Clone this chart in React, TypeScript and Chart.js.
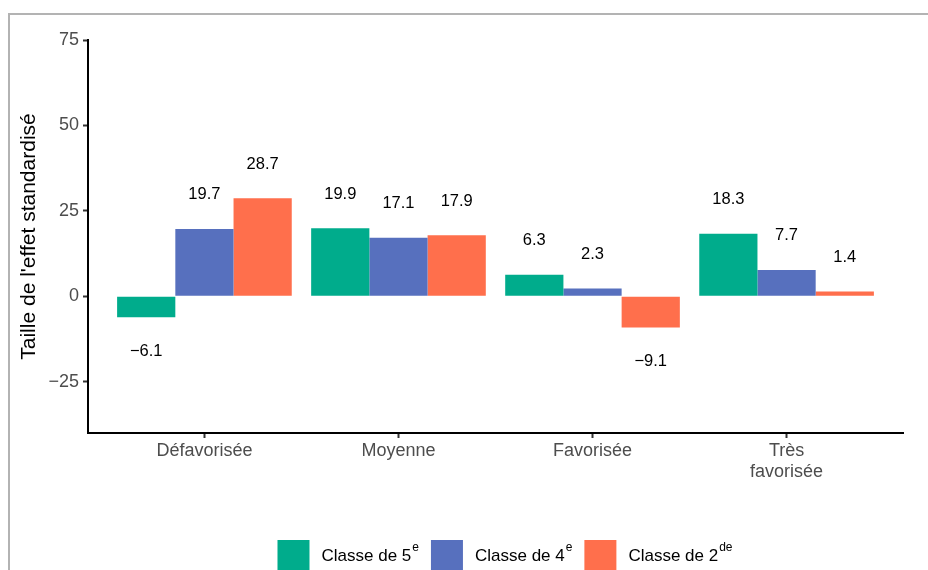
import React, { useEffect, useRef } from 'react';
import { Chart, registerables } from 'chart.js';

Chart.register(...registerables);

// ---- data ----
const categories = ['Défavorisée', 'Moyenne', 'Favorisée', 'Très favorisée'];
const categoryLines = [['Défavorisée'], ['Moyenne'], ['Favorisée'], ['Très', 'favorisée']];
const classe5 = [-6.1, 19.9, 6.3, 18.3];
const classe4 = [19.7, 17.1, 2.3, 7.7];
const classe2 = [28.7, 17.9, -9.1, 1.4];
const yTicks = [-25, 0, 25, 50, 75];
const seriesMain = ['Classe de 5', 'Classe de 4', 'Classe de 2'];
const seriesSup = ['e', 'e', 'de'];
const yTitle = "Taille de l'effet standardisé";

// ---- styles ----
const COLORS = ['#00AC8C', '#5770BE', '#FF6F4C'];
const FONT = "'Liberation Sans', Arial, sans-serif";
const LABEL_OFFSET = 10;

const fmt = (v: number) => v.toFixed(1).replace('-', '\u2212');

const valueLabels = {
  id: 'valueLabels',
  afterDatasetsDraw(chart: any) {
    const ctx = chart.ctx;
    const y = chart.scales.y;
    ctx.save();
    ctx.font = `16.5px ${FONT}`;
    ctx.fillStyle = '#000';
    ctx.textAlign = 'center';
    ctx.textBaseline = 'middle';
    chart.data.datasets.forEach((ds: any, di: number) => {
      const meta = chart.getDatasetMeta(di);
      meta.data.forEach((bar: any, i: number) => {
        const v = ds.data[i].y;
        const py = y.getPixelForValue(v + (v >= 0 ? LABEL_OFFSET : -LABEL_OFFSET));
        ctx.fillText(fmt(v), bar.x, py);
      });
    });
    ctx.restore();
  },
};

const customLegend = {
  id: 'customLegend',
  afterDraw(chart: any) {
    const ctx = chart.ctx;
    ctx.save();
    const box = 32;
    const gapText = 12;
    const gapItem = 12;
    const mainFont = `17px ${FONT}`;
    const supFont = `12px ${FONT}`;
    const widths = seriesMain.map((m, i) => {
      ctx.font = mainFont;
      const w1 = ctx.measureText(m).width;
      ctx.font = supFont;
      const w2 = ctx.measureText(seriesSup[i]).width;
      return { w1, w2 };
    });
    const total = widths.reduce((s, w) => s + box + gapText + w.w1 + 1 + w.w2, 0) + gapItem * (widths.length - 1);
    let x = 505 - total / 2;
    const top = 540;
    const baseline = 561;
    ctx.textBaseline = 'alphabetic';
    ctx.textAlign = 'left';
    seriesMain.forEach((m, i) => {
      ctx.fillStyle = COLORS[i];
      ctx.fillRect(x, top, box, box);
      x += box + gapText;
      ctx.fillStyle = '#000';
      ctx.font = mainFont;
      ctx.fillText(m, x, baseline);
      x += widths[i].w1 + 1;
      ctx.font = supFont;
      ctx.fillText(seriesSup[i], x, baseline - 10);
      x += widths[i].w2 + gapItem;
    });
    ctx.restore();
  },
};

export default function App() {
  const ref = useRef<HTMLCanvasElement>(null);
  useEffect(() => {
    if (!ref.current) return;
    const series = [classe5, classe4, classe2];
    const chart = new Chart(ref.current, {
      type: 'bar',
      data: {
        datasets: series.map((s, si) => ({
          label: seriesMain[si] + seriesSup[si],
          data: s.map((v, i) => ({ x: i, y: v })),
          backgroundColor: COLORS[si],
          borderWidth: 0,
          categoryPercentage: 0.9,
          barPercentage: 1,
        })),
      },
      options: {
        animation: false,
        responsive: false,
        devicePixelRatio: 1,
        layout: { padding: { top: 40, right: 25, left: 0, bottom: 0 } },
        plugins: {
          legend: { display: false },
          tooltip: { enabled: false },
          title: { display: false },
        },
        scales: {
          x: {
            type: 'linear',
            min: -0.6,
            max: 3.6,
            offset: false,
            afterBuildTicks: (scale: any) => {
              scale.ticks = categories.map((_, i) => ({ value: i }));
            },
            afterFit: (scale: any) => {
              scale.height = 137;
            },
            ticks: {
              callback: (v: any) => {
                const idx = Math.round(Number(v));
                const l = categoryLines[idx];
                return l ? (l.length > 1 ? l : l[0]) : '';
              },
              color: '#4d4d4d',
              font: { size: 18, family: FONT, lineHeight: 1.2 },
              padding: 2,
              maxRotation: 0,
              autoSkip: false,
            },
            grid: {
              offset: false,
              drawOnChartArea: false,
              drawTicks: true,
              tickLength: 5,
              tickColor: '#333333',
              tickWidth: 2,
            },
            border: { display: true, color: '#000', width: 2 },
          },
          y: {
            type: 'linear',
            min: -40,
            max: 75,
            afterBuildTicks: (scale: any) => {
              scale.ticks = yTicks.map((v) => ({ value: v }));
            },
            afterFit: (scale: any) => {
              scale.width = 88;
            },
            ticks: {
              callback: (v: any) => String(v).replace('-', '\u2212'),
              color: '#4d4d4d',
              font: { size: 18, family: FONT },
              padding: 4,
            },
            grid: {
              drawOnChartArea: false,
              drawTicks: true,
              tickLength: 5,
              tickColor: '#333333',
              tickWidth: 2,
            },
            border: { display: true, color: '#000', width: 2 },
            title: {
              display: true,
              text: yTitle,
              color: '#000',
              font: { size: 21, family: FONT, lineHeight: 1.2 },
              padding: { top: 17, bottom: 0 },
            },
          },
        },
      },
      plugins: [valueLabels, customLegend],
    });
    return () => chart.destroy();
  }, []);

  return (
    <div style={{ position: 'fixed', left: 0, top: 0, width: 928, height: 570, overflow: 'hidden', background: '#fff' }}>
      <div
        style={{
          position: 'absolute',
          left: 8,
          top: 13,
          width: 1000,
          height: 700,
          borderTop: '2px solid #b3b3b3',
          borderLeft: '2px solid #b3b3b3',
        }}
      />
      <canvas ref={ref} width={928} height={570} style={{ position: 'absolute', left: 0, top: 0, width: 928, height: 570 }} />
    </div>
  );
}
